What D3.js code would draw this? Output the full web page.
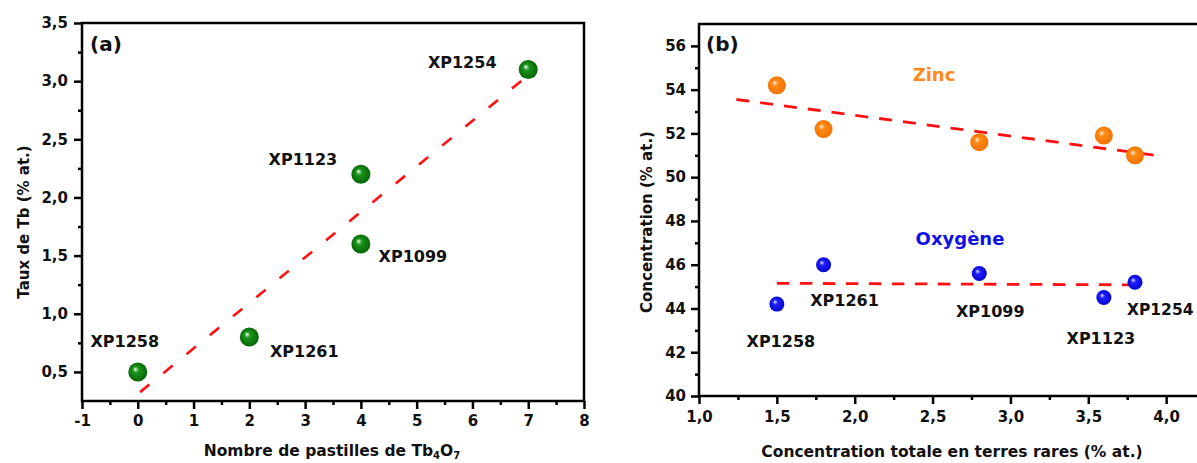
<!DOCTYPE html>
<html><head><meta charset="utf-8">
<script src="https://cdn.jsdelivr.net/npm/d3@7/dist/d3.min.js"></script>
<style>
body{margin:0;background:#fff}
svg text{font-family:"DejaVu Sans",sans-serif;font-weight:bold;fill:#111}
</style>
</head><body>
<svg id="chart" width="1197" height="463"></svg>
<script>
// ---------- data (a) ----------
const samplesA = ["XP1258", "XP1261", "XP1123", "XP1099", "XP1254"];
const nbPastilles = [0, 2, 4, 4, 7];
const tauxTb = [0.5, 0.8, 2.2, 1.6, 3.1];
const fitAX = [0, 7];
const fitAY = [0.31, 3.05];
const xTicksA = [-1, 0, 1, 2, 3, 4, 5, 6, 7, 8];
const yTicksA = [0.5, 1.0, 1.5, 2.0, 2.5, 3.0, 3.5];

// ---------- data (b) ----------
const samplesB = ["XP1258", "XP1261", "XP1099", "XP1123", "XP1254"];
const terresRares = [1.5, 1.8, 2.8, 3.6, 3.8];
const zinc = [54.2, 52.2, 51.6, 51.9, 51.0];
const oxygene = [44.2, 46.0, 45.6, 44.5, 45.2];
const zincFitX = [1.24, 3.93];
const zincFitY = [53.55, 51.0];
const oxyFitX = [1.5, 3.8];
const oxyFitY = [45.15, 45.08];
const xTicksB = [1.0, 1.5, 2.0, 2.5, 3.0, 3.5, 4.0];
const yTicksB = [40, 42, 44, 46, 48, 50, 52, 54, 56];

// ---------- helpers ----------
const svg = d3.select("#chart");
const fmt1 = d => d3.format(".1f")(d).replace(".", ",");
const fmt0 = d => String(d);
const AXW = 2.5;

const defs = svg.append("defs");
function sphere(id, hi, mid, dark) {
  const g = defs.append("radialGradient").attr("id", id)
    .attr("cx", "0.5").attr("cy", "0.5").attr("r", "0.55")
    .attr("fx", "0.36").attr("fy", "0.34");
  g.append("stop").attr("offset", "0").attr("stop-color", hi);
  g.append("stop").attr("offset", "0.3").attr("stop-color", mid);
  g.append("stop").attr("offset", "1").attr("stop-color", dark);
}
sphere("gGreen", "#e8ffe8", "#1a931a", "#046004");
sphere("gOrange", "#fff0e0", "#ff8a14", "#f07000");
sphere("gBlue", "#e8e8ff", "#2020ff", "#0000c8");

function styleAxis(g) {
  g.select(".domain").remove();
  g.selectAll(".tick line").attr("stroke", "#000").attr("stroke-width", AXW);
  g.selectAll(".tick text").style("font-size", "15px").attr("fill", "#111");
}
function minors(ticks, step) {
  const out = [];
  for (let i = 0; i < ticks.length - 1; i++) out.push(ticks[i] + step);
  return out;
}

// ================= Panel (a) =================
const xA = d3.scaleLinear().domain([-1, 8]).range([82, 584]);
const yA = d3.scaleLinear().domain([0.25, 3.5]).range([401, 23]);

const pa = svg.append("g");
pa.append("g").attr("transform", "translate(0,401)")
  .call(d3.axisBottom(xA).tickValues(xTicksA).tickSize(8).tickPadding(6).tickFormat(fmt0))
  .call(styleAxis);
pa.append("g").attr("transform", "translate(0,401)")
  .call(d3.axisBottom(xA).tickValues(minors(xTicksA, 0.5)).tickSize(4).tickFormat(""))
  .call(styleAxis);
pa.append("g").attr("transform", "translate(82,0)")
  .call(d3.axisLeft(yA).tickValues(yTicksA).tickSize(8).tickPadding(6).tickFormat(fmt1))
  .call(styleAxis);
pa.append("g").attr("transform", "translate(82,0)")
  .call(d3.axisLeft(yA).tickValues(minors(yTicksA, 0.25)).tickSize(4).tickFormat(""))
  .call(styleAxis);
pa.append("rect").attr("x", xA(-1)).attr("y", yA(3.5))
  .attr("width", xA(8) - xA(-1)).attr("height", yA(0.25) - yA(3.5))
  .attr("fill", "none").attr("stroke", "#000").attr("stroke-width", AXW);

pa.append("path")
  .datum(fitAX.map((x, i) => [x, fitAY[i]]))
  .attr("d", d3.line().x(d => xA(d[0])).y(d => yA(d[1])))
  .attr("fill", "none").attr("stroke", "#ff1010").attr("stroke-width", 2.6)
  .attr("stroke-dasharray", "12,18").attr("stroke-dashoffset", -3);

const dataA = samplesA.map((s, i) => ({ s, x: nbPastilles[i], y: tauxTb[i] }));
pa.selectAll("circle.pt").data(dataA).enter().append("circle")
  .attr("cx", d => xA(d.x)).attr("cy", d => yA(d.y)).attr("r", 9.5)
  .attr("fill", "url(#gGreen)");

const offA = { XP1258: [-13, -25], XP1261: [55, 20], XP1123: [-58, -9], XP1099: [52, 18], XP1254: [-66, -2] };
pa.selectAll("text.lbl").data(dataA).enter().append("text")
  .attr("x", d => xA(d.x) + offA[d.s][0]).attr("y", d => yA(d.y) + offA[d.s][1])
  .attr("text-anchor", "middle").style("font-size", "16px").text(d => d.s);

pa.append("text").attr("x", 90).attr("y", 51).style("font-size", "20px").text("(a)");

pa.append("text").attr("transform", "translate(29,222) rotate(-90)")
  .attr("text-anchor", "middle").style("font-size", "15px").text("Taux de Tb (% at.)");

const tA = pa.append("text").attr("x", 332).attr("y", 456)
  .attr("text-anchor", "middle").style("font-size", "15.5px");
tA.append("tspan").text("Nombre de pastilles de Tb");
tA.append("tspan").attr("dy", 3).style("font-size", "10px").text("4");
tA.append("tspan").attr("dy", -3).text("O");
tA.append("tspan").attr("dy", 3).style("font-size", "10px").text("7");

// ================= Panel (b) =================
const xB = d3.scaleLinear().domain([1.0, 4.5]).range([699, 1244]);
const yB = d3.scaleLinear().domain([40, 57]).range([396, 24]);

const pb = svg.append("g");
pb.append("g").attr("transform", "translate(0,396)")
  .call(d3.axisBottom(xB).tickValues(xTicksB).tickSize(8).tickPadding(7).tickFormat(fmt1))
  .call(styleAxis);
pb.append("g").attr("transform", "translate(0,396)")
  .call(d3.axisBottom(xB).tickValues(minors(xTicksB, 0.25)).tickSize(4).tickFormat(""))
  .call(styleAxis);
pb.append("g").attr("transform", "translate(699,0)")
  .call(d3.axisLeft(yB).tickValues(yTicksB).tickSize(8).tickPadding(5).tickFormat(fmt0))
  .call(styleAxis);
pb.append("g").attr("transform", "translate(699,0)")
  .call(d3.axisLeft(yB).tickValues(minors(yTicksB, 1)).tickSize(4).tickFormat(""))
  .call(styleAxis);
pb.append("rect").attr("x", xB(1.0)).attr("y", yB(57))
  .attr("width", xB(4.5) - xB(1.0)).attr("height", yB(40) - yB(57))
  .attr("fill", "none").attr("stroke", "#000").attr("stroke-width", AXW);

function fitLine(xs, ys, dash) {
  pb.append("path")
    .datum(xs.map((x, i) => [x, ys[i]]))
    .attr("d", d3.line().x(d => xB(d[0])).y(d => yB(d[1])))
    .attr("fill", "none").attr("stroke", "#ff1010").attr("stroke-width", 2.8)
    .attr("stroke-dasharray", dash);
}
fitLine(zincFitX, zincFitY, "13,11");
fitLine(oxyFitX, oxyFitY, "12.5,10.5");

const dataZ = terresRares.map((x, i) => ({ x, y: zinc[i] }));
const dataO = samplesB.map((s, i) => ({ s, x: terresRares[i], y: oxygene[i] }));
pb.selectAll("circle.zn").data(dataZ).enter().append("circle")
  .attr("cx", d => xB(d.x)).attr("cy", d => yB(d.y)).attr("r", 9)
  .attr("fill", "url(#gOrange)");
pb.selectAll("circle.ox").data(dataO).enter().append("circle")
  .attr("cx", d => xB(d.x)).attr("cy", d => yB(d.y)).attr("r", 7.5)
  .attr("fill", "url(#gBlue)");

const offB = { XP1258: [4, 43, "middle"], XP1261: [21, 41, "middle"], XP1099: [11, 44, "middle"], XP1123: [-3, 46, "middle"], XP1254: [-8, 33, "start"] };
pb.selectAll("text.lbl").data(dataO).enter().append("text")
  .attr("x", d => xB(d.x) + offB[d.s][0]).attr("y", d => yB(d.y) + offB[d.s][1])
  .attr("text-anchor", d => offB[d.s][2]).style("font-size", d => d.s === "XP1254" ? "15.5px" : "16px").text(d => d.s);

pb.append("text").attr("x", 934).attr("y", 81).attr("text-anchor", "middle")
  .style("font-size", "18px").style("fill", "#ff8a1a").text("Zinc");
pb.append("text").attr("x", 960).attr("y", 245).attr("text-anchor", "middle")
  .style("font-size", "18px").style("fill", "#1010e8").text("Oxygène");

pb.append("text").attr("x", 706).attr("y", 51).style("font-size", "20px").text("(b)");

pb.append("text").attr("transform", "translate(652,222) rotate(-90)")
  .attr("text-anchor", "middle").style("font-size", "15px").text("Concentration (% at.)");
pb.append("text").attr("x", 952).attr("y", 457).attr("text-anchor", "middle")
  .style("font-size", "15.5px").text("Concentration totale en terres rares (% at.)");
</script>
</body></html>
